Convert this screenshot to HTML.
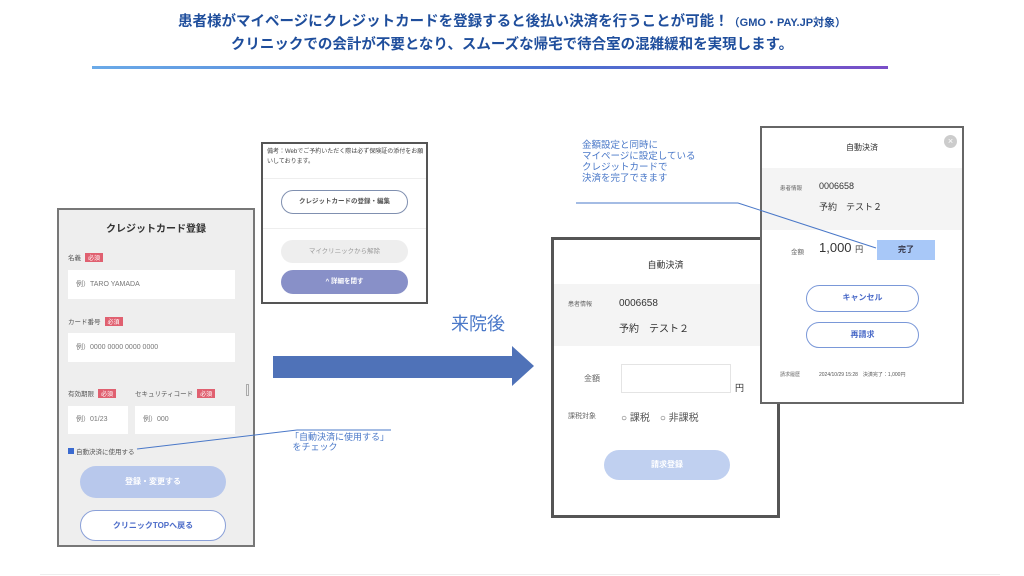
<!DOCTYPE html>
<html><head><meta charset="utf-8"><style>
*{margin:0;padding:0;box-sizing:border-box}
body{width:1024px;height:576px;background:#fff;position:relative;overflow:hidden;font-family:"Liberation Sans","Noto Sans CJK JP",sans-serif;color:#333}
.a{position:absolute}
.t{color:#1f4e9c;font-weight:bold;font-size:14.5px;text-align:center;width:1024px;left:0}
.blue{color:#4a78c8}
.box{position:absolute;background:#fff;border:2px solid #666}
.pill{position:absolute;border-radius:20px;text-align:center;font-size:8px;font-weight:bold}
.fld{position:absolute;background:#fff;font-size:7px;color:#777;padding-left:8px}
.req{display:inline-block;background:#e06070;color:#fff;font-size:6px;padding:0 3px;margin-left:4px}
.lb{position:absolute;font-size:6.5px;color:#555}
</style></head><body>
<div class="a t" style="top:10px">患者様がマイページにクレジットカードを登録すると後払い決済を行うことが可能！<span style="font-size:11px">（GMO・PAY.JP対象）</span></div>
<div class="a t" style="top:33px">クリニックでの会計が不要となり、スムーズな帰宅で待合室の混雑緩和を実現します。</div>
<div class="a" style="left:92px;top:66px;width:796px;height:3px;background:linear-gradient(90deg,#6aaae8,#4a70d0 60%,#7a4ec8)"></div>
<div class="a" style="left:40px;top:574px;width:960px;height:1px;background:#eee"></div>

<!-- left card -->
<div class="box" style="left:57px;top:208px;width:198px;height:339px;background:#eee;border-color:#777">
 <div class="a" style="left:0;top:10px;width:194px;text-align:center;font-size:10px;font-weight:bold">クレジットカード登録</div>
 <div class="lb" style="left:9px;top:42px">名義<span class="req">必須</span></div>
 <div class="fld" style="left:9px;top:60px;width:167px;height:29px;line-height:29px">例）TARO YAMADA</div>
 <div class="lb" style="left:9px;top:106px">カード番号<span class="req">必須</span></div>
 <div class="fld" style="left:9px;top:123px;width:167px;height:29px;line-height:29px">例）0000 0000 0000 0000</div>
 <div class="lb" style="left:9px;top:178px">有効期限<span class="req">必須</span></div>
 <div class="lb" style="left:76px;top:178px">セキュリティコード<span class="req">必須</span></div>
 <div class="fld" style="left:9px;top:196px;width:60px;height:28px;line-height:28px">例）01/23</div>
 <div class="fld" style="left:76px;top:196px;width:100px;height:28px;line-height:28px">例）000</div>
 <div class="a" style="left:187px;top:174px;width:3px;height:12px;border:1px solid #aaa"></div>
 <div class="lb" style="left:9px;top:236px"><span style="display:inline-block;width:6px;height:6px;background:#3a6ad0;margin-right:2px"></span>自動決済に使用する</div>
 <div class="pill" style="left:21px;top:256px;width:146px;height:32px;line-height:32px;background:#b8c8ec;color:#fff">登録・変更する</div>
 <div class="pill" style="left:21px;top:300px;width:146px;height:31px;line-height:29px;background:#fff;border:1.5px solid #8aa0d8;color:#4a6ac8">クリニックTOPへ戻る</div>
</div>

<!-- top middle card -->
<div class="box" style="left:261px;top:142px;width:167px;height:162px;border-color:#555">
 <div class="a" style="left:4px;top:3px;width:158px;font-size:6px;line-height:10px;color:#444">備考：Webでご予約いただく際は必ず保険証の添付をお願いしております。</div>
 <div class="a" style="left:0;top:34px;width:163px;height:1px;background:#eee"></div>
 <div class="pill" style="left:18px;top:46px;width:127px;height:24px;line-height:22px;border:1.5px solid #8090b0;font-size:6.5px;color:#555">クレジットカードの登録・編集</div>
 <div class="a" style="left:0;top:84px;width:163px;height:1px;background:#eee"></div>
 <div class="pill" style="left:18px;top:96px;width:127px;height:23px;line-height:23px;background:#eee;color:#999;font-weight:normal;font-size:6.5px">マイクリニックから解除</div>
 <div class="pill" style="left:18px;top:126px;width:127px;height:24px;line-height:24px;background:#8890c8;color:#fff;font-size:6.5px">^ 詳細を閉す</div>
</div>

<!-- arrow -->
<div class="a" style="left:273px;top:356px;width:240px;height:22px;background:#4f72b8"></div>
<div class="a" style="left:512px;top:346px;width:0;height:0;border-top:20px solid transparent;border-bottom:20px solid transparent;border-left:22px solid #4f72b8"></div>
<div class="a blue" style="left:451px;top:310px;font-size:18px">来院後</div>

<!-- annotation lines -->
<svg class="a" style="left:0;top:0" width="1024" height="576">
<line x1="137" y1="449" x2="297" y2="430" stroke="#4a78c8" stroke-width="1"/>
<line x1="297" y1="430" x2="391" y2="430" stroke="#4a78c8" stroke-width="1"/>
<line x1="576" y1="203" x2="738" y2="203" stroke="#4a78c8" stroke-width="1"/>
</svg>
<div class="a blue" style="left:290px;top:432px;font-size:9px;line-height:10px">「自動決済に使用する」<br>&nbsp;をチェック</div>
<div class="a blue" style="left:582px;top:140px;font-size:9.5px;line-height:11px">金額設定と同時に<br>マイページに設定している<br>クレジットカードで<br>決済を完了できます</div>

<!-- middle-right card -->
<div class="box" style="left:551px;top:237px;width:229px;height:281px;border:3px solid #555">
 <div class="a" style="left:0;top:18px;width:223px;text-align:center;font-size:9px">自動決済</div>
 <div class="a" style="left:0;top:44px;width:223px;height:62px;background:#f4f4f4"></div>
 <div class="a" style="left:14px;top:59px;font-size:6px;color:#666">患者情報</div>
 <div class="a" style="left:65px;top:58px;font-size:10px">0006658</div>
 <div class="a" style="left:65px;top:80px;font-size:10px">予約　テスト２</div>
 <div class="a" style="left:30px;top:133px;font-size:8px;color:#666">金額</div>
 <div class="a" style="left:67px;top:124px;width:110px;height:29px;border:1px solid #e4e4e4"></div>
 <div class="a" style="left:181px;top:141px;font-size:9px">円</div>
 <div class="a" style="left:14px;top:171px;font-size:7px;color:#666">課税対象</div>
 <div class="a" style="left:67px;top:169px;font-size:10px;color:#555">○ 課税　○ 非課税</div>
 <div class="pill" style="left:50px;top:210px;width:126px;height:30px;line-height:30px;background:#c0d0f0;color:#fff">請求登録</div>
</div>

<!-- right card -->
<div class="box" style="left:760px;top:126px;width:204px;height:278px;border-color:#666">
 <div class="a" style="left:0;top:14px;width:200px;text-align:center;font-size:8px">自動決済</div>
 <div class="a" style="left:182px;top:7px;width:13px;height:13px;border-radius:50%;background:#ccc;color:#fff;font-size:9px;line-height:13px;text-align:center">×</div>
 <div class="a" style="left:0;top:40px;width:200px;height:62px;background:#f4f4f4"></div>
 <div class="a" style="left:18px;top:56px;font-size:5.5px;color:#666">患者情報</div>
 <div class="a" style="left:57px;top:53px;font-size:9px">0006658</div>
 <div class="a" style="left:57px;top:72px;font-size:9px">予約　テスト２</div>
 <div class="a" style="left:29px;top:118px;font-size:6.5px;color:#666">金額</div>
 <div class="a" style="left:57px;top:112px;font-size:13px">1,000 <span style="font-size:8px">円</span></div>
 <div class="a" style="left:115px;top:112px;width:58px;height:20px;background:#a8c8f8;text-align:center;line-height:20px;font-size:8px;font-weight:bold;color:#334">完了</div>
 <div class="pill" style="left:44px;top:157px;width:113px;height:27px;line-height:24px;border:1.5px solid #7a98d8;color:#4a6ac8">キャンセル</div>
 <div class="pill" style="left:44px;top:194px;width:113px;height:26px;line-height:23px;border:1.5px solid #7a98d8;color:#4a6ac8">再請求</div>
 <div class="a" style="left:18px;top:243px;font-size:5px;color:#666">請求履歴</div>
 <div class="a" style="left:57px;top:243px;font-size:5px;color:#555">2024/10/29 15:28　決済完了：1,000円</div>
</div>
<svg class="a" style="left:0;top:0" width="1024" height="576">
<line x1="738" y1="203" x2="876" y2="248" stroke="#4a78c8" stroke-width="1"/>
</svg>
</body></html>
